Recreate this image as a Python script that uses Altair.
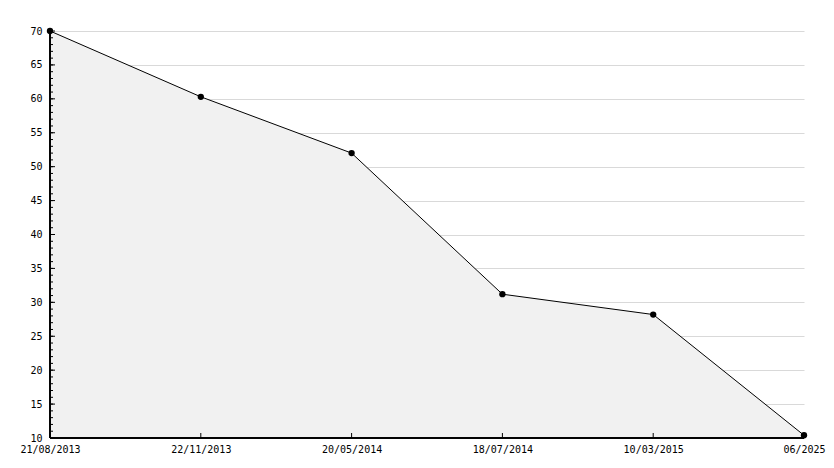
import altair as alt
import pandas as pd

dates = ["21/08/2013", "22/11/2013", "20/05/2014", "18/07/2014", "10/03/2015", "06/2025"]
values = [70, 60.3, 52, 31.2, 28.2, 10.4]
minor_ticks = list(range(10, 71))
major_ticks = list(range(10, 71, 5))

W, H = 754, 407
FONT = "DejaVu Sans Mono"

df = pd.DataFrame({"date": dates, "value": values})
df_minor = pd.DataFrame({"value": minor_ticks})
df_major = pd.DataFrame({"value": major_ticks})

xscale = alt.Scale(type="point", padding=0)
yscale = alt.Scale(domain=[10, 70], nice=False, zero=False)

xaxis = alt.Axis(title=None, domain=False, ticks=False, tickSize=0, grid=False,
                 labelAngle=0, labelFont=FONT, labelFontSize=10, labelColor="#000",
                 labelPadding=6, labelOverlap=False, labelBound=False, labelFlush=False)
yaxis = alt.Axis(title=None, domain=False, ticks=False, tickSize=0, grid=True,
                 gridColor="#d9d9d9", gridWidth=1, values=major_ticks,
                 labelFont=FONT, labelFontSize=10, labelColor="#000", labelPadding=8)

X = alt.X("date:O", sort=dates, scale=xscale, axis=xaxis)
Y = alt.Y("value:Q", scale=yscale, axis=yaxis)

area = alt.Chart(df).mark_area(color="#f1f1f1", opacity=1).encode(
    x=X, y=Y, y2=alt.datum(10),
)
line = alt.Chart(df).mark_line(color="#000", strokeWidth=1).encode(x=X, y=Y)
pts = alt.Chart(df).mark_point(filled=True, color="#000", size=40, opacity=1).encode(x=X, y=Y)
minor = alt.Chart(df_minor).mark_rule(color="#000", strokeWidth=1).encode(
    y=Y, x=alt.value(0), x2=alt.value(3),
)
major = alt.Chart(df_major).mark_rule(color="#000", strokeWidth=1).encode(
    y=Y, x=alt.value(0), x2=alt.value(5),
)
xticks = alt.Chart(df).mark_rule(color="#000", strokeWidth=1).encode(
    x=X, y=alt.value(H), y2=alt.value(H - 5),
)
yline = alt.Chart(df).mark_rule(color="#000", strokeWidth=1).encode(
    x=alt.value(0), y=alt.value(0), y2=alt.value(H),
)
xline = alt.Chart(df).mark_rule(color="#000", strokeWidth=1).encode(
    x=alt.value(0), x2=alt.value(W), y=alt.value(H),
)

chart = alt.layer(area, line, minor, major, xticks, yline, xline, pts).properties(
    width=W, height=H,
    padding={"left": 42, "top": 23, "right": 22, "bottom": 18},
    autosize="none",
    background="white",
).configure_view(stroke=None)

chart.save("out.html", embed_options={"renderer": "svg", "actions": False})
